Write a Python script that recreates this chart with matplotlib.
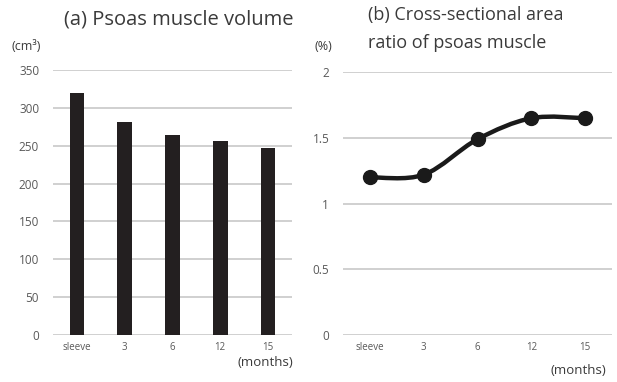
import matplotlib
matplotlib.use('Agg')
import matplotlib.pyplot as plt
from matplotlib.path import Path
from matplotlib.patches import PathPatch

plt.rcParams['font.family'] = ['Open Sans', 'DejaVu Sans']

months = ['sleeve', '3', '6', '12', '15']
volume = [320, 281, 264, 256, 247]          # cm3
area_ratio = [1.20, 1.22, 1.49, 1.65, 1.65]  # %

grid_c = '#c4c4c4'
tick_c = '#595959'
text_c = '#3a3a3a'


def smooth_path(xs, ys, t=1/6):
    # Catmull-Rom style bezier through the points (like Excel's smoothed line)
    verts = [(xs[0], ys[0])]
    codes = [Path.MOVETO]
    n = len(xs)
    for i in range(n - 1):
        x0, y0 = xs[max(i - 1, 0)], ys[max(i - 1, 0)]
        x1, y1 = xs[i], ys[i]
        x2, y2 = xs[i + 1], ys[i + 1]
        x3, y3 = xs[min(i + 2, n - 1)], ys[min(i + 2, n - 1)]
        c1 = (x1 + (x2 - x0) * t, y1 + (y2 - y0) * t)
        c2 = (x2 - (x3 - x1) * t, y2 - (y3 - y1) * t)
        verts += [c1, c2, (x2, y2)]
        codes += [Path.CURVE4] * 3
    return Path(verts, codes)


def style(ax):
    for s in ax.spines.values():
        s.set_visible(False)
    ax.yaxis.grid(True, color=grid_c, linewidth=1.1)
    ax.set_axisbelow(True)
    ax.tick_params(axis='both', length=0, colors=tick_c)
    ax.tick_params(axis='y', labelsize=8.5, pad=10)
    ax.tick_params(axis='x', labelsize=7, pad=5)
    ax.set_xlim(-0.5, 4.5)


fig = plt.figure(figsize=(6.17, 3.82), dpi=100)

# (a) bar chart
ax1 = fig.add_axes([0.086, 0.123, 0.387, 0.694])
x = list(range(len(months)))
ax1.bar(x, volume, width=0.31, color='#231f20')
ax1.set_ylim(0, 350)
ax1.set_yticks(range(0, 351, 50))
ax1.set_xticks(x)
ax1.set_xticklabels(months)
style(ax1)
fig.text(0.29, 0.950, '(a) Psoas muscle volume', ha='center', va='center',
         fontsize=14.5, color=text_c)
fig.text(0.018, 0.877, '(cm³)', ha='left', va='center', fontsize=9, color=text_c)
fig.text(0.475, 0.052, '(months)', ha='right', va='center', fontsize=9.5, color=text_c)

# (b) line chart
ax2 = fig.add_axes([0.556, 0.123, 0.436, 0.688])
ax2.add_patch(PathPatch(smooth_path(x, area_ratio), facecolor='none',
                        edgecolor='#1a1a1a', linewidth=3.2, capstyle='round'))
ax2.plot(x, area_ratio, linestyle='none', marker='o', markersize=10,
         color='#1a1a1a')
ax2.set_ylim(0, 2)
ax2.set_yticks([0, 0.5, 1, 1.5, 2])
ax2.set_yticklabels(['0', '0.5', '1', '1.5', '2'])
ax2.set_xticks(x)
ax2.set_xticklabels(months)
style(ax2)
fig.text(0.596, 0.960, '(b) Cross-sectional area', ha='left', va='center',
         fontsize=13, color=text_c)
fig.text(0.596, 0.887, 'ratio of psoas muscle', ha='left', va='center',
         fontsize=13, color=text_c)
fig.text(0.510, 0.877, '(%)', ha='left', va='center', fontsize=9, color=text_c)
fig.text(0.983, 0.031, '(months)', ha='right', va='center', fontsize=9.5, color=text_c)

fig.savefig('out.png', dpi=100)
